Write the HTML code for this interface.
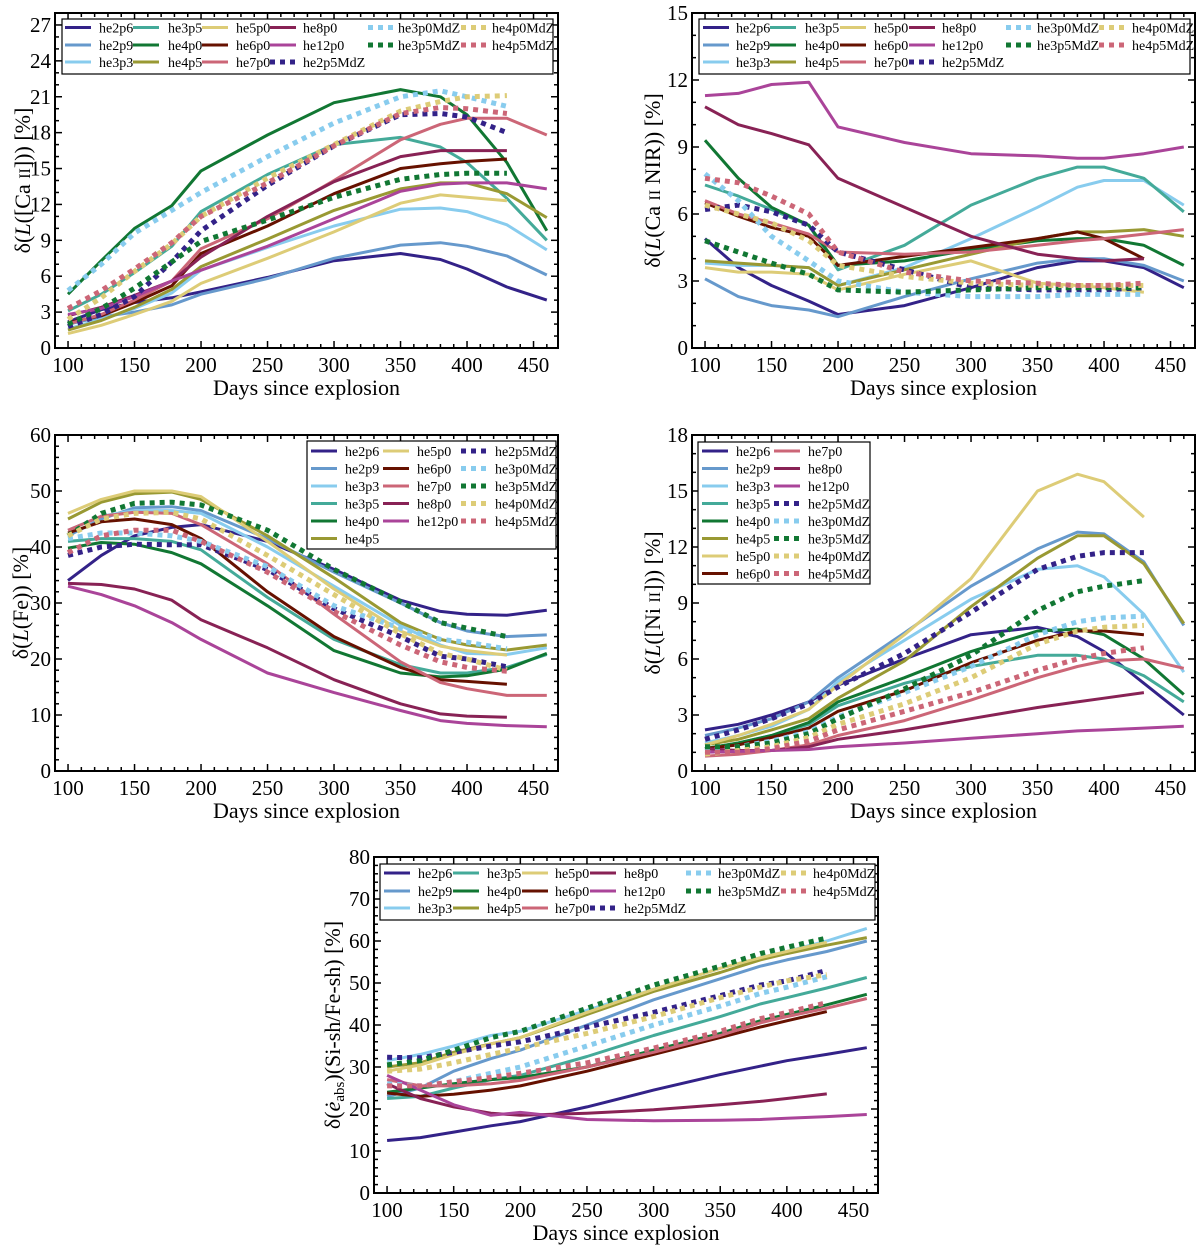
<!DOCTYPE html>
<html><head><meta charset="utf-8"><style>
html,body{margin:0;padding:0;background:#fff;}
svg{display:block;font-family:"Liberation Serif","DejaVu Serif",serif;}
</style></head><body>
<svg id="fig" width="1200" height="1249" viewBox="0 0 1200 1249" xmlns="http://www.w3.org/2000/svg"></svg>
<script>
const days = [100,125,150,178,200,250,300,350,380,400,430,460];
const seriesNames = ["he2p6","he2p9","he3p3","he3p5","he4p0","he4p5","he5p0","he6p0","he7p0","he8p0","he12p0","he2p5MdZ","he3p0MdZ","he3p5MdZ","he4p0MdZ","he4p5MdZ"];
const seriesColors = ["#332288","#6699CC","#88CCEE","#44AA99","#117733","#999933","#DDCC77","#661100","#CC6677","#882255","#AA4499","#332288","#88CCEE","#117733","#DDCC77","#CC6677"];
const seriesDotted = [0,0,0,0,0,0,0,0,0,0,0,1,1,1,1,1];

const caIIForbVals = [
[2.2,3.2,3.8,4.2,4.7,5.9,7.3,7.9,7.4,6.6,5.1,4.0],
[2.0,2.6,3.0,3.6,4.5,5.8,7.5,8.6,8.8,8.5,7.7,6.1],
[1.6,2.4,3.3,4.6,6.5,8.4,10.2,11.6,11.7,11.4,10.3,8.2],
[3.1,4.5,6.3,8.5,11.4,14.5,17.0,17.6,16.8,15.5,12.5,9.0],
[4.5,7.3,10.0,11.9,14.8,17.8,20.5,21.6,21.0,19.5,15.5,9.8],
[1.5,2.3,3.4,4.9,6.8,9.1,11.5,13.3,13.8,13.8,12.9,10.9],
[1.2,1.9,2.8,3.9,5.4,7.5,9.7,12.1,12.8,12.6,12.3,null],
[2.1,2.7,3.8,5.2,7.9,10.2,12.9,15.0,15.4,15.6,15.8,null],
[2.0,2.8,4.0,5.6,8.3,10.8,14.0,17.4,18.7,19.2,19.2,17.8],
[2.7,3.4,4.4,5.6,7.6,11.0,13.9,16.0,16.5,16.5,16.5,null],
[2.8,3.3,4.3,5.6,6.5,8.5,10.8,13.1,13.7,13.8,13.8,13.3],
[1.8,2.8,4.3,7.2,9.8,13.6,16.9,19.5,19.6,19.3,18.0,null],
[4.8,7.0,9.6,11.5,13.0,16.0,18.8,21.0,21.5,21.0,20.2,null],
[2.0,3.3,5.0,7.2,8.9,10.7,12.6,14.1,14.5,14.6,14.6,null],
[2.4,4.2,6.4,8.7,11.0,14.2,17.0,19.8,20.6,21.0,21.1,null],
[3.3,4.8,6.6,8.8,11.0,13.8,16.9,19.6,20.1,20.0,19.6,null]];

const caIINirVals = [
[4.9,3.6,2.8,2.1,1.5,1.9,2.7,3.6,3.9,3.9,3.6,2.7],
[3.1,2.3,1.9,1.7,1.4,2.3,3.1,3.8,4.0,4.0,3.7,3.0],
[3.8,3.7,3.7,3.6,2.8,3.6,4.9,6.3,7.2,7.5,7.5,6.4],
[7.3,6.8,6.2,5.5,3.5,4.6,6.4,7.6,8.1,8.1,7.6,6.1],
[9.3,7.6,6.3,5.5,3.7,3.9,4.4,4.8,4.9,4.9,4.6,3.7],
[3.9,3.8,3.7,3.6,2.8,3.5,4.2,4.9,5.2,5.2,5.3,5.0],
[3.6,3.4,3.4,3.3,2.6,3.3,3.9,2.9,2.8,2.7,2.5,null],
[6.5,5.9,5.4,5.0,3.7,4.1,4.5,4.9,5.2,4.9,4.0,null],
[6.6,6.0,5.6,5.1,4.3,4.2,4.3,4.6,4.8,4.9,5.1,5.3],
[10.8,10.0,9.6,9.1,7.6,6.3,5.0,4.2,4.0,3.9,4.0,null],
[11.3,11.4,11.8,11.9,9.9,9.2,8.7,8.6,8.5,8.5,8.7,9.0],
[6.2,6.4,6.1,5.5,4.3,3.5,2.7,2.6,2.6,2.6,2.7,null],
[7.8,6.6,5.0,3.9,3.0,2.5,2.3,2.3,2.4,2.4,2.4,null],
[4.8,4.3,3.8,3.3,2.6,2.5,2.6,2.7,2.7,2.7,2.7,null],
[6.4,6.0,5.6,4.8,3.7,3.2,2.9,2.8,2.8,2.8,2.8,null],
[7.6,7.4,6.8,6.0,4.3,3.4,3.0,2.9,2.8,2.8,2.9,null]];

const feVals = [
[34,38.5,42,43.5,44,41,36,30.5,28.5,28,27.8,28.7],
[42,45,47,47.2,46.5,41.5,35.5,30,26.5,25,24,24.3],
[43,45.5,46.5,46.5,46,40,33,26,22.5,21,20.8,22],
[41,41.5,41.5,41,39.5,31,23.5,19,17.5,17.5,18.5,20.8],
[39.8,40.8,40.5,39,37,29.5,21.5,17.5,16.8,17,18.2,21],
[45,48,49.5,49.8,48.5,42,34.5,26.5,23.5,22.5,21.6,22.5],
[46,48.5,50,50,49,41,32.5,25,22.3,21.5,20.7,null],
[42.5,44.5,45,44,41.5,32,24,18.5,16.3,16,15.5,null],
[43,45.5,46.2,46,44,37,28,19.5,15.8,14.7,13.5,13.5],
[33.5,33.3,32.5,30.5,27,22,16.3,12,10.2,9.8,9.6,null],
[33,31.5,29.5,26.5,23.5,17.5,14,10.8,9,8.5,8.1,7.9],
[38.5,40,40.5,40.4,40.4,36,29,24,20.5,20,18.6,null],
[41.5,42.5,42.5,42,41,36.5,29.5,25.5,23.5,23,21.8,null],
[42,46,47.8,48,47.5,43,36,30.2,26.5,25.5,24,null],
[42,45,46,46.2,45,38.5,31.5,24.5,21,20,18,null],
[39,42,43,43,41,35.5,28.5,22.5,19.5,18.5,17.8,null]];

const niIIVals = [
[2.2,2.5,3.0,3.7,4.6,6.0,7.3,7.7,7.2,6.4,4.7,3.0],
[1.9,2.3,2.8,3.7,5.0,7.4,9.9,11.9,12.8,12.7,11.2,7.8],
[1.5,1.9,2.4,3.3,4.8,7.0,9.2,10.8,11.0,10.4,8.4,5.3],
[1.2,1.5,1.9,2.5,3.5,4.7,5.6,6.2,6.2,6.0,5.1,3.7],
[1.2,1.5,1.9,2.6,3.7,5.0,6.4,7.5,7.6,7.3,6.0,4.1],
[1.4,1.7,2.2,2.8,3.9,5.9,8.8,11.4,12.6,12.6,11.1,7.9],
[1.4,1.9,2.5,3.3,4.6,7.3,10.3,15.0,15.9,15.5,13.6,null],
[1.2,1.4,1.8,2.3,3.2,4.3,5.8,7.0,7.5,7.5,7.3,null],
[0.8,0.9,1.1,1.4,1.9,2.7,3.8,5.0,5.6,5.9,6.0,5.5],
[1.2,1.1,1.1,1.3,1.7,2.2,2.8,3.4,3.7,3.9,4.2,null],
[1.0,1.05,1.1,1.15,1.3,1.5,1.75,2.0,2.15,2.2,2.3,2.4],
[1.7,2.2,2.8,3.6,4.5,6.3,8.5,10.8,11.5,11.7,11.7,null],
[1.1,1.3,1.6,2.1,2.9,4.2,5.6,7.3,8.0,8.2,8.3,null],
[1.3,1.3,1.5,2.0,2.8,4.4,6.2,8.6,9.6,9.9,10.2,null],
[0.9,1.1,1.3,1.8,2.5,3.6,5.0,6.8,7.5,7.7,7.8,null],
[1.0,1.0,1.2,1.6,2.2,3.2,4.2,5.4,6.0,6.3,6.6,null]];

const edotVals = [
[12.5,13.2,14.5,16.0,17.0,20.5,24.5,28.2,30.2,31.5,33.0,34.6],
[23.0,25.0,29.0,32.0,34.0,40.0,46.0,51.0,54.0,55.5,57.5,60.0],
[31.5,33.0,35.0,37.5,38.5,43.5,48.5,53.5,56.0,57.5,60.0,63.0],
[22.5,23.0,25.0,27.0,28.0,32.5,37.5,42.0,45.0,46.5,48.8,51.3],
[24.0,25.0,26.0,27.0,27.5,30.0,34.0,38.0,41.0,42.5,44.8,47.3],
[30.0,31.0,33.5,35.5,37.0,42.5,48.0,52.5,55.5,57.0,59.0,60.8],
[29.0,30.5,33.0,35.5,37.0,43.0,48.5,53.5,56.0,57.5,59.7,null],
[23.8,23.0,23.5,24.5,25.5,29.0,33.0,37.0,39.5,41.0,43.2,null],
[27.0,25.5,25.5,26.0,26.8,30.0,33.5,37.5,40.5,42.0,44.0,46.3],
[26.0,22.5,20.5,19.0,18.5,19.0,19.8,21.0,21.8,22.5,23.6,null],
[28.0,24.5,21.0,18.5,19.2,17.5,17.2,17.3,17.5,17.8,18.2,18.7],
[32.3,32.2,33.5,35.0,36.0,39.5,43.0,47.0,49.5,50.5,53.0,null],
[26.0,25.5,26.5,28.5,30.0,35.0,40.0,44.5,47.5,49.0,51.5,null],
[30.5,31.5,34.0,37.0,38.5,44.0,49.5,54.0,57.0,58.5,60.7,null],
[29.0,29.5,31.0,33.0,34.5,38.0,42.0,46.5,49.0,50.5,52.0,null],
[25.5,25.5,26.5,27.5,28.5,31.0,34.5,38.5,41.5,43.0,45.3,null]];

const xTicks = [100,150,200,250,300,350,400,450];

const NS = "http://www.w3.org/2000/svg";
const fig = document.getElementById('fig');
function mk(tag, attrs, parent, text){
  const e = document.createElementNS(NS, tag);
  for (const k in attrs) e.setAttribute(k, attrs[k]);
  if (text !== undefined) e.textContent = text;
  (parent||fig).appendChild(e);
  return e;
}

const panels = [
 {key:"ca-ii-forbidden", vals:caIIForbVals, x0:55,y0:13,x1:558,y1:348, ymax:28, ystep:3, yminor:1, ylabel:["δ(","L","([Ca ","II","])) [%]"], lx:22,
  legend:{bx:62,by:19,bw:491,bh:55, rows:3, rowY:[27.5,45,62], colLine:[65,133,202,270,368,461], colText:[99,168,236,303,398,492], order:[[0,1,2],[3,4,5],[6,7,8],[9,10,11],[12,13],[14,15]]}},
 {key:"ca-ii-nir", vals:caIINirVals, x0:692,y0:13,x1:1195,y1:348, ymax:15, ystep:3, yminor:1, ylabel:["δ(","L","(Ca ","II"," NIR)) [%]"], lx:652,
  legend:{bx:699,by:19,bw:491,bh:55, rows:3, rowY:[27.5,45,62], colLine:[703,770,840,909,1006,1099], colText:[736,805,874,942,1037,1132], order:[[0,1,2],[3,4,5],[6,7,8],[9,10,11],[12,13],[14,15]]}},
 {key:"fe", vals:feVals, x0:55,y0:435,x1:558,y1:771, ymax:60, ystep:10, yminor:2, ylabel:["δ(","L","(Fe)) [%]","",""], lx:20,
  legend:{bx:307,by:441,bw:249,bh:108, rows:6, rowY:[451,468.5,486,503.5,521,538.5], colLine:[311,383,461], colText:[345,417,495], order:[[0,1,2,3,4,5],[6,7,8,9,10],[11,12,13,14,15]]}},
 {key:"ni-ii", vals:niIIVals, x0:692,y0:435,x1:1195,y1:771, ymax:18, ystep:3, yminor:1, ylabel:["δ(","L","([Ni ","II","])) [%]"], lx:652,
  legend:{bx:698,by:442,bw:172,bh:142, rows:8, rowY:[451,468.5,486,503.5,521,538.5,556,573.5], colLine:[702,774], colText:[736,808], order:[[0,1,2,3,4,5,6,7],[8,9,10,11,12,13,14,15]]}},
 {key:"edot-abs", vals:edotVals, x0:374,y0:857,x1:878,y1:1193, ymax:80, ystep:10, yminor:2, ylabel:null, lx:332,
  legend:{bx:380,by:864,bw:495,bh:56, rows:3, rowY:[873,891,908], colLine:[384,453,522,590,686,781], colText:[418,487,555,624,718,813], order:[[0,1,2],[3,4,5],[6,7,8],[9,10,11],[12,13],[14,15]]}}
];

const XMIN = 90.2, XMAX = 468.4;

panels.forEach((p, pi) => {
  const g = mk('g', {});
  
  
  const sx = d => p.x0 + (d - XMIN) / (XMAX - XMIN) * (p.x1 - p.x0);
  const sy = v => p.y1 - v / p.ymax * (p.y1 - p.y0);

  const cid = 'clip' + pi;
  const cp = mk('clipPath', {id:cid}, g);
  mk('rect', {x:p.x0, y:p.y0, width:p.x1-p.x0, height:p.y1-p.y0}, cp);

  const sg = mk('g', {'clip-path':'url(#'+cid+')'}, g);
  p.vals.forEach((arr, si) => {
    let d = '';
    arr.forEach((v, i) => {
      if (v === null) return;
      d += (d ? 'L' : 'M') + sx(days[i]).toFixed(1) + ',' + sy(v).toFixed(1);
    });
    const path = mk('path', {d:d, fill:'none', stroke:seriesColors[si],
      'stroke-width': seriesDotted[si] ? 5 : 3, 'stroke-linejoin':'round',
      'stroke-dasharray': seriesDotted[si] ? '5,5' : 'none'}, sg);
    
    
  });

  const fr = mk('rect', {x:p.x0, y:p.y0, width:p.x1-p.x0, height:p.y1-p.y0, fill:'none', stroke:'#000', 'stroke-width':2}, g);
  
  

  const xg = mk('g', {}, g);
  
  
  for (let d = 100; d <= 460; d += 10) {
    const X = sx(d); const major = d % 50 === 0;
    const L = major ? 7 : 4;
    mk('line', {x1:X, x2:X, y1:p.y1, y2:p.y1-L, stroke:'#000', 'stroke-width':1.5}, xg);
    mk('line', {x1:X, x2:X, y1:p.y0, y2:p.y0+L, stroke:'#000', 'stroke-width':1.5}, xg);
  }
  xTicks.forEach(t => {
    const tl = mk('text', {x:sx(t), y:p.y1+24, 'text-anchor':'middle', 'font-size':21}, xg, String(t));
    
    
  });
  const xt = mk('text', {x:(p.x0+p.x1)/2, y:p.y1+47, 'text-anchor':'middle', 'font-size':22}, g, 'Days since explosion');
  
  

  const yg = mk('g', {}, g);
  
  
  for (let v = 0; v <= p.ymax + 1e-9; v += p.yminor) {
    const Y = sy(v); const major = Math.abs(v / p.ystep - Math.round(v / p.ystep)) < 1e-6;
    const L = major ? 7 : 4;
    mk('line', {x1:p.x0, x2:p.x0+L, y1:Y, y2:Y, stroke:'#000', 'stroke-width':1.5}, yg);
    mk('line', {x1:p.x1, x2:p.x1-L, y1:Y, y2:Y, stroke:'#000', 'stroke-width':1.5}, yg);
    if (major) {
      const tl = mk('text', {x:p.x0-4, y:Y+7, 'text-anchor':'end', 'font-size':21}, yg, String(Math.round(v)));
      
      
    }
  }

  const cy = (p.y0 + p.y1) / 2;
  const bx = p.lx + 8;
  const yl = mk('text', {x:bx, y:cy, 'text-anchor':'middle', 'font-size':22,
    transform:'rotate(-90 '+bx+' '+cy+')'}, g);
  
  
  if (p.ylabel) {
    const parts = p.ylabel;
    mk('tspan', {}, yl, parts[0]);
    mk('tspan', {'font-style':'italic'}, yl, parts[1]);
    mk('tspan', {}, yl, parts[2]);
    if (parts[3]) mk('tspan', {'font-size':16}, yl, parts[3]);
    if (parts[4]) mk('tspan', {}, yl, parts[4]);
  } else {
    mk('tspan', {}, yl, 'δ(');
    mk('tspan', {'font-style':'italic'}, yl, 'ė');
    mk('tspan', {'font-size':15, dy:4}, yl, 'abs');
    mk('tspan', {dy:-4}, yl, ')(Si-sh/Fe-sh) [%]');
  }

  const lg = p.legend;
  const leg = mk('g', {}, g);
  
  
  mk('rect', {x:lg.bx, y:lg.by, width:lg.bw, height:lg.bh, fill:'#fff', stroke:'#000', 'stroke-width':1.2}, leg);
  lg.order.forEach((col, ci) => {
    col.forEach((si, ri) => {
      const e = mk('g', {}, leg);
      
      
      const Y = lg.rowY[ri];
      mk('line', {x1:lg.colLine[ci], x2:lg.colLine[ci]+26, y1:Y, y2:Y, stroke:seriesColors[si],
        'stroke-width': seriesDotted[si] ? 5 : 3, 'stroke-dasharray': seriesDotted[si] ? '5,5' : 'none'}, e);
      mk('text', {x:lg.colText[ci], y:Y+5, 'font-size':14}, e, seriesNames[si]);
    });
  });
});
</script>
</body></html>
